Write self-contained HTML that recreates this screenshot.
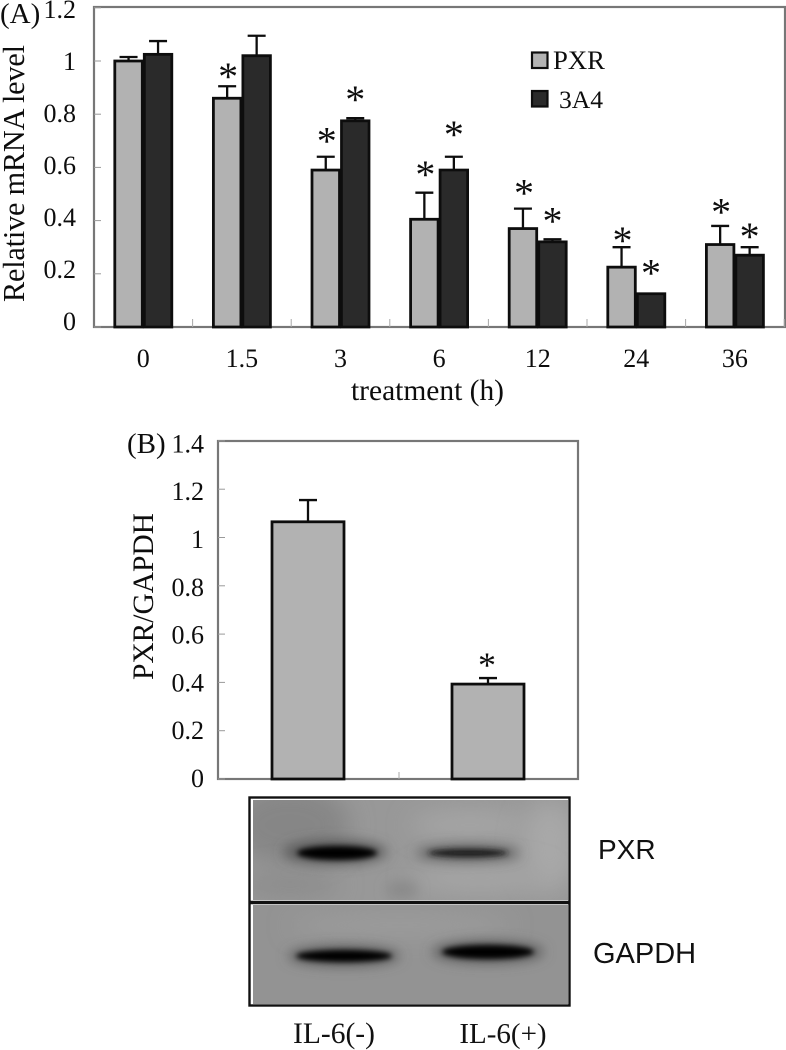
<!DOCTYPE html>
<html>
<head>
<meta charset="utf-8">
<style>
html,body{margin:0;padding:0;background:#fff;width:786px;height:1050px;overflow:hidden}
svg{display:block}
text{font-family:"Liberation Serif",serif;fill:#111}
</style>
</head>
<body>
<svg id="fig" width="786" height="1050" viewBox="0 0 786 1050" xmlns="http://www.w3.org/2000/svg">
<defs>
<filter id="soft" x="-5%" y="-5%" width="110%" height="110%"><feGaussianBlur stdDeviation="0.35"/></filter>
<filter id="b2" x="-30%" y="-100%" width="160%" height="300%"><feGaussianBlur stdDeviation="2.6"/></filter>
<filter id="b5" x="-40%" y="-150%" width="180%" height="400%"><feGaussianBlur stdDeviation="6"/></filter>
<filter id="b12" x="-50%" y="-100%" width="200%" height="300%"><feGaussianBlur stdDeviation="12"/></filter>
<clipPath id="blotTop"><rect x="253" y="800" width="315" height="100"/></clipPath>
<clipPath id="blotBottom"><rect x="253" y="905" width="315" height="99"/></clipPath>
</defs>
<g id="chartA" filter="url(#soft)"></g>
<g id="chartB" filter="url(#soft)"></g>

<g>
  <rect x="249" y="797" width="321" height="209" fill="#fff"/>
  <g clip-path="url(#blotTop)">
    <rect x="253" y="800" width="315" height="100" fill="#989898"/>
    <ellipse cx="290" cy="825" rx="60" ry="40" fill="#868686" filter="url(#b12)"/>
    <ellipse cx="470" cy="825" rx="60" ry="14" fill="#a6a6a6" filter="url(#b12)"/>
    <ellipse cx="550" cy="845" rx="28" ry="45" fill="#a8a8a8" filter="url(#b12)"/>
    <ellipse cx="290" cy="885" rx="50" ry="14" fill="#8c8c8c" filter="url(#b12)"/>
    <ellipse cx="480" cy="878" rx="70" ry="14" fill="#a6a6a6" filter="url(#b12)"/>
    <ellipse cx="402" cy="890" rx="16" ry="9" fill="#8a8a8a" filter="url(#b5)"/>
    <ellipse cx="335" cy="852" rx="52" ry="12" fill="#585858" filter="url(#b5)"/>
    <ellipse cx="337" cy="853" rx="40" ry="7" fill="#000" filter="url(#b2)"/>
    <ellipse cx="468" cy="853" rx="52" ry="8" fill="#5f5f5f" filter="url(#b5)"/>
    <ellipse cx="468" cy="853" rx="40" ry="4" fill="#1c1c1c" filter="url(#b2)"/>
  </g>
  <g clip-path="url(#blotBottom)">
    <rect x="253" y="905" width="315" height="99" fill="#939393"/>
    <ellipse cx="400" cy="925" rx="110" ry="12" fill="#9c9c9c" filter="url(#b12)"/>
    <ellipse cx="344" cy="956" rx="56" ry="10" fill="#5a5a5a" filter="url(#b5)"/>
    <ellipse cx="344" cy="956" rx="48" ry="6" fill="#000" filter="url(#b2)"/>
    <ellipse cx="488" cy="952" rx="56" ry="11" fill="#5a5a5a" filter="url(#b5)"/>
    <ellipse cx="488" cy="952" rx="46" ry="7" fill="#000" filter="url(#b2)"/>
  </g>
  <rect x="249.5" y="797.5" width="320" height="208" fill="none" stroke="#111" stroke-width="2.4"/>
  <line x1="250" x2="570" y1="902.5" y2="902.5" stroke="#111" stroke-width="3.4"/>
  <text x="598" y="859" style="font-family:'Liberation Sans',sans-serif;font-size:28px">PXR</text>
  <text x="593" y="963" style="font-family:'Liberation Sans',sans-serif;font-size:29px">GAPDH</text>
  <text x="334" y="1043" text-anchor="middle" style="font-size:29.5px">IL-6(-)</text>
  <text x="503" y="1043" text-anchor="middle" style="font-size:29px">IL-6(+)</text>
</g>

<script>
// Panel A data
var categoriesA = ['0', '1.5', '3', '6', '12', '24', '36'];
var pxrValues = [1.0, 0.86, 0.59, 0.405, 0.37, 0.225, 0.31];
var cyp3a4Values = [1.025, 1.02, 0.775, 0.59, 0.32, 0.125, 0.27];
var pxrErrors = [0.015, 0.045, 0.05, 0.1, 0.075, 0.075, 0.07];
var cyp3a4Errors = [0.05, 0.075, 0.01, 0.05, 0.01, 0, 0.03];
var pxrSignificant = [false, true, true, true, true, true, true];
var cyp3a4Significant = [false, false, true, true, true, true, true];
var pxrStarGap = [0, 0.053, 0.075, 0.083, 0.075, 0.041, 0.068];
var cyp3a4StarGap = [0, 0, 0.086, 0.1, 0.083, 0.094, 0.056];
var yTicksA = [0, 0.2, 0.4, 0.6, 0.8, 1, 1.2];

// Panel B data
var categoriesB = ['IL-6(-)', 'IL-6(+)'];
var ratioValues = [1.065, 0.393];
var ratioErrors = [0.09, 0.025];
var ratioSignificant = [false, true];
var ratioStarGap = [0, 0.07];
var yTicksB = [0, 0.2, 0.4, 0.6, 0.8, 1, 1.2, 1.4];

var NS = 'http://www.w3.org/2000/svg';
var GRAY = '#b2b2b2', DARK = '#292929', INK = '#111', FRAME = '#777';

function add(parent, tag, attrs, txt) {
  var el = document.createElementNS(NS, tag);
  for (var k in attrs) el.setAttribute(k, attrs[k]);
  if (txt !== undefined) el.textContent = txt;
  parent.appendChild(el);
  return el;
}

// Axis functions, panel A
function yA(v) { return 327 - v * 266; }
function yLabelA(v) { return 330 - v * 260; }
function bandA(i) { return 94 + (i + 0.5) * 98.6; }
// Axis functions, panel B
function yB(v) { return 779 - v * 241.5; }
function yLabelB(v) { return 787 - v * 239; }
function bandB(i) { return 218 + (i + 0.5) * 180; }

function drawBar(g, x, w, top, base, errTop, fill, name) {
  var el = add(g, 'rect', {x: x + 1, y: top, width: w - 2, height: base - top, fill: fill, stroke: INK, 'stroke-width': 2.8});
  
  
  if (errTop < top - 0.5) {
    var stem = add(g, 'line', {x1: x + w / 2, x2: x + w / 2, y1: top, y2: errTop, stroke: INK, 'stroke-width': 2.3});
    
    
    var cap = add(g, 'line', {x1: x + w / 2 - 9, x2: x + w / 2 + 9, y1: errTop, y2: errTop, stroke: INK, 'stroke-width': 2.3});
    
    
  }
}

function drawStar(g, x, centerY, name, size) {
  var el = add(g, 'text', {x: x, y: centerY + 0.44 * size, 'text-anchor': 'middle', style: 'font-size:' + size + 'px'}, '*');
  
  
}

(function () {
  var g = document.getElementById('chartA');
  var frame = add(g, 'rect', {x: 94, y: 7, width: 691, height: 320, fill: '#fff', stroke: FRAME, 'stroke-width': 2.2});
  
  

  yTicksA.forEach(function (t) {
    var tick = add(g, 'line', {x1: 94, x2: 101, y1: yA(t), y2: yA(t), stroke: '#9a9a9a', 'stroke-width': 1});
    
    
    var lab = add(g, 'text', {x: 76, y: yLabelA(t), 'text-anchor': 'end', style: 'font-size:26px'}, String(t));
    
    
  });

  categoriesA.forEach(function (c, i) {
    var cx = bandA(i);
    var tick = add(g, 'line', {x1: cx + 49.3, x2: cx + 49.3, y1: 319, y2: 327, stroke: '#a8a8a8', 'stroke-width': 1});
    
    
    var lab = add(g, 'text', {x: cx, y: 367, 'text-anchor': 'middle', style: 'font-size:26px'}, c);
    
    

    var w = 29.5;
    var pErrValue = pxrValues[i] + pxrErrors[i];
    var dErrValue = cyp3a4Values[i] + cyp3a4Errors[i];
    drawBar(g, cx - w, w, yA(pxrValues[i]), 327, yA(pErrValue), GRAY, 'bar-pxr-' + c);
    drawBar(g, cx, w, yA(cyp3a4Values[i]), 327, yA(dErrValue), DARK, 'bar-3a4-' + c);
    if (pxrSignificant[i]) drawStar(g, cx - w / 2 + 1, yA(pErrValue + pxrStarGap[i]), 'significance-pxr-' + c, 40);
    if (cyp3a4Significant[i]) drawStar(g, cx + w / 2, yA(dErrValue + cyp3a4StarGap[i]), 'significance-3a4-' + c, 40);
  });

  var title = add(g, 'text', {transform: 'translate(24 302) rotate(-90)', textLength: 257, lengthAdjust: 'spacing', style: 'font-size:30.3px'}, 'Relative mRNA level');
  
  
  var xt = add(g, 'text', {x: 351, y: 400, textLength: 153, lengthAdjust: 'spacing', style: 'font-size:29.5px'}, 'treatment (h)');
  
  
  var pl = add(g, 'text', {x: 0, y: 23, style: 'font-size:29px'}, '(A)');
  
  

  var s1 = add(g, 'rect', {x: 532, y: 52.5, width: 15.5, height: 15.5, fill: GRAY, stroke: INK, 'stroke-width': 2.2});
  
  
  var t1 = add(g, 'text', {x: 553, y: 69, style: 'font-size:26.7px'}, 'PXR');
  
  
  var s2 = add(g, 'rect', {x: 532, y: 91, width: 15.5, height: 15.5, fill: DARK, stroke: INK, 'stroke-width': 2.2});
  
  
  var t2 = add(g, 'text', {x: 559, y: 108, style: 'font-size:25.6px'}, '3A4');
  
  
})();

(function () {
  var g = document.getElementById('chartB');
  var frame = add(g, 'rect', {x: 218, y: 441, width: 360, height: 338, fill: '#fff', stroke: FRAME, 'stroke-width': 2.2});
  
  

  yTicksB.forEach(function (t) {
    var tick = add(g, 'line', {x1: 218, x2: 225, y1: yB(t), y2: yB(t), stroke: '#9a9a9a', 'stroke-width': 1});
    
    
    var lab = add(g, 'text', {x: 204, y: yLabelB(t), 'text-anchor': 'end', style: 'font-size:26px'}, String(t));
    
    
  });

  var mid = add(g, 'line', {x1: 399, x2: 399, y1: 772, y2: 779, stroke: '#a8a8a8', 'stroke-width': 1});
  
  

  categoriesB.forEach(function (c, i) {
    var cx = bandB(i);
    var w = 74;
    var errValue = ratioValues[i] + ratioErrors[i];
    drawBar(g, cx - w / 2, w, yB(ratioValues[i]), 779, yB(errValue), GRAY, 'bar-ratio-' + c);
    if (ratioSignificant[i]) drawStar(g, cx - 1, yB(errValue + ratioStarGap[i]), 'significance-ratio-' + c, 36);
  });

  var title = add(g, 'text', {transform: 'translate(153 680) rotate(-90)', textLength: 167, lengthAdjust: 'spacing', style: 'font-size:29.5px'}, 'PXR/GAPDH');
  
  
  var pl = add(g, 'text', {x: 127, y: 453, style: 'font-size:29px'}, '(B)');
  
  
})();
</script>
</svg>
</body>
</html>
